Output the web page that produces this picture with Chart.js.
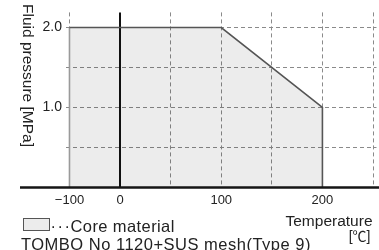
<!DOCTYPE html>
<html><head><meta charset="utf-8">
<script src="https://cdn.jsdelivr.net/npm/chart.js@4.4.0/dist/chart.umd.min.js"></script>
<style>html,body{margin:0;padding:0;background:#fff;overflow:hidden}#wrap{width:379px;height:250px;position:relative}</style>
</head><body><div id="wrap"><canvas id="c" width="379" height="250"></canvas></div>
<script>
const temperatureOutline = [-100, -100, 100, 200, 200];
const pressureOutline = [0, 2.0, 2.0, 1.0, 0];
const xGridTemps = [-100, 0, 50, 100, 150, 200, 250];
const xTickTemps = [-100, 0, 100, 200];
const xTickLabels = ['\u2212100', '0', '100', '200'];
const yGridValues = [0, 0.5, 1.0, 1.5, 2.0];
const yTickValues = [1.0, 2.0];
const yTickLabels = ['1.0', '2.0'];
const yTitle = 'Fluid pressure [MPa]';
const xTitle = 'Temperature';
const xUnit = '[\u2103]';
const legendDots = '\u00B7\u00B7\u00B7';
const legendLabel = 'Core material';
const legendNote = 'TOMBO No 1120+SUS mesh(Type 9)';

// broken axis: -100..0 takes one grid step, 0..250 uses 50 per step
function pos(t){ return t < 0 ? t / 100 : t / 50; }
function tempOf(p){ return p < 0 ? Math.round(p * 100) : Math.round(p * 50); }

const FONT = "'Liberation Sans', Arial, 'Noto Sans CJK JP', sans-serif";
const TXT = '#222';

const annot = {
  id: 'annot',
  afterDraw(chart) {
    const ctx = chart.ctx;
    const ys = chart.scales.y;
    const y0 = ys.getPixelForValue(0);
    ctx.save();
    // extended x axis line
    ctx.strokeStyle = '#151515';
    ctx.lineWidth = 2.5;
    ctx.beginPath();
    ctx.moveTo(20, y0 + 0.5);
    ctx.lineTo(379, y0 + 0.5);
    ctx.stroke();

    ctx.fillStyle = TXT;
    // y title, reading top to bottom
    ctx.save();
    ctx.translate(27.5, 4);
    ctx.rotate(Math.PI / 2);
    ctx.font = '15.5px ' + FONT;
    ctx.textAlign = 'left';
    ctx.textBaseline = 'middle';
    ctx.fillText(yTitle, 0, 0);
    ctx.restore();

    // x title
    ctx.font = '15.5px ' + FONT;
    ctx.textAlign = 'right';
    ctx.textBaseline = 'alphabetic';
    ctx.fillText(xTitle, 372.5, 225.5);
    ctx.font = '14px ' + FONT;
    ctx.fillText(xUnit, 370.5, 241);

    // legend
    ctx.fillStyle = '#ececec';
    ctx.fillRect(23, 218.5, 26.5, 12.5);
    ctx.strokeStyle = '#555';
    ctx.lineWidth = 1;
    ctx.strokeRect(23.5, 218.5, 26, 12);
    ctx.fillStyle = TXT;
    ctx.textAlign = 'left';
    ctx.font = '16.5px ' + FONT;
    if ('letterSpacing' in ctx) ctx.letterSpacing = '1.5px';
    ctx.fillText(legendDots, 50.5, 231.5);
    if ('letterSpacing' in ctx) ctx.letterSpacing = '0.4px';
    ctx.fillText(legendLabel, 70.5, 231.5);
    if ('letterSpacing' in ctx) ctx.letterSpacing = '0.5px';
    ctx.fillText(legendNote, 21, 249.5);
    ctx.restore();
  }
};

new Chart(document.getElementById('c'), {
  type: 'line',
  data: {
    datasets: [{
      data: temperatureOutline.map((t, i) => ({x: pos(t), y: pressureOutline[i]})),
      borderColor: '#555',
      borderWidth: 1.6,
      backgroundColor: 'rgba(0,0,0,0.075)',
      fill: 'origin',
      pointRadius: 0,
      tension: 0,
      segment: { borderColor: c => c.p0DataIndex === 0 ? '#9a9a9a' : undefined }
    }]
  },
  options: {
    responsive: false,
    animation: false,
    devicePixelRatio: 1,
    layout: {padding: {top: 5, right: 0, left: 0, bottom: 0}},
    plugins: {legend: {display: false}, tooltip: {enabled: false}},
    scales: {
      x: {
        type: 'linear', min: -1.069, max: 5.069,
        afterBuildTicks: s => { s.ticks = xGridTemps.map(t => ({value: pos(t)})); },
        afterFit: s => { s.height = 63; },
        grid: {
          drawTicks: false,
          color: c => (c.tick && tempOf(c.tick.value) === 0) ? '#111' : '#8a8a8a',
          lineWidth: c => (c.tick && tempOf(c.tick.value) === 0) ? 2 : 1
        },
        border: { display: false, dash: c => (c.tick && tempOf(c.tick.value) === 0) ? [] : [4, 3] },
        ticks: {
          padding: 6, color: TXT, font: {family: FONT, size: 13}, maxRotation: 0, autoSkip: false,
          callback: v => { const i = xTickTemps.indexOf(tempOf(v)); return i >= 0 ? xTickLabels[i] : ''; }
        }
      },
      y: {
        min: 0, max: 2.19,
        afterBuildTicks: s => { s.ticks = yGridValues.map(v => ({value: v})); },
        afterFit: s => { s.width = 66; },
        grid: {
          drawTicks: false,
          color: c => (c.tick && c.tick.value === 0) ? 'rgba(0,0,0,0)' : '#8a8a8a',
          lineWidth: 1
        },
        border: { display: false, dash: [4, 3] },
        ticks: {
          padding: 4, color: TXT, font: {family: FONT, size: 14},
          callback: v => { const i = yTickValues.indexOf(v); return i >= 0 ? yTickLabels[i] : ''; }
        }
      }
    }
  },
  plugins: [annot]
});
</script>
</body></html>
